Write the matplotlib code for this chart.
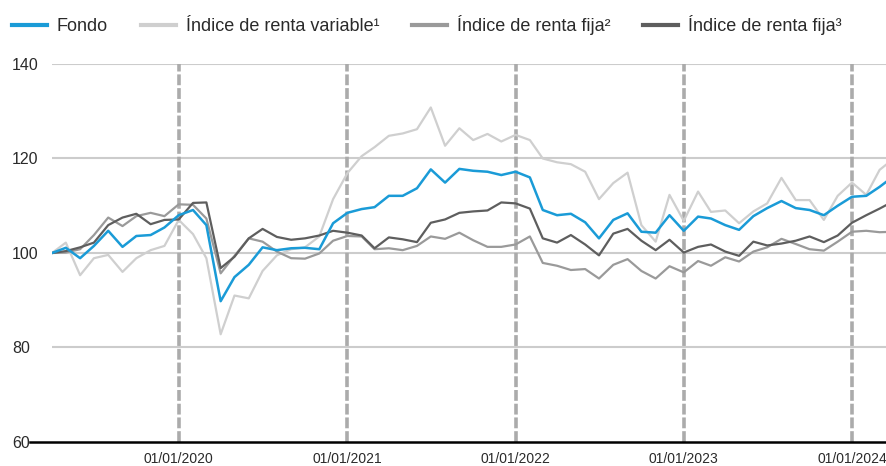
import pandas as pd
import matplotlib.pyplot as plt
from matplotlib.lines import Line2D

# Monthly series, base 100
dates = pd.date_range('2019-04-01', periods=61, freq='MS')

fondo = [100.0, 101.1, 98.9, 101.5, 104.7, 101.3, 103.6, 103.8, 105.4, 108.0,
         109.1, 105.9, 89.8, 94.9, 97.5, 101.2, 100.6, 101.0, 101.1, 100.8,
         106.3, 108.5, 109.3, 109.7, 112.1, 112.1, 113.7, 117.7, 114.9, 117.8,
         117.4, 117.2, 116.5, 117.2, 116.0, 109.1, 108.0, 108.3, 106.5, 103.1,
         107.0, 108.4, 104.5, 104.3, 108.0, 104.7, 107.7, 107.3, 105.9, 104.9,
         107.8, 109.5, 111.0, 109.5, 109.1, 108.0, 110.0, 111.9, 112.1, 114.0,
         116.3]

renta_variable = [100.0, 102.2, 95.3, 98.9, 99.6, 96.0, 98.9, 100.6, 101.5, 107.0,
                  104.0, 98.9, 82.8, 91.0, 90.4, 96.2, 99.5, 100.8, 101.2, 103.5,
                  111.4, 116.9, 120.5, 122.4, 124.8, 125.3, 126.2, 130.8, 122.7, 126.4,
                  123.9, 125.2, 123.6, 125.0, 123.9, 120.0, 119.2, 118.8, 117.2, 111.4,
                  114.8, 117.0, 105.9, 102.4, 112.3, 106.8, 113.0, 108.7, 109.0, 106.3,
                  108.8, 110.5, 115.9, 111.2, 111.2, 107.0, 112.1, 114.9, 112.3, 117.6,
                  120.0]

renta_fija_2 = [100.0, 100.1, 100.8, 103.8, 107.5, 105.7, 107.8, 108.5, 107.8, 110.3,
                110.2, 107.3, 95.7, 99.4, 103.1, 102.4, 100.3, 98.9, 98.8, 99.9,
                102.6, 103.6, 103.5, 100.8, 101.0, 100.6, 101.5, 103.5, 103.0, 104.3,
                102.7, 101.3, 101.3, 101.8, 103.5, 97.9, 97.3, 96.4, 96.6, 94.6,
                97.5, 98.7, 96.2, 94.6, 97.2, 95.9, 98.3, 97.3, 99.1, 98.2,
                100.3, 101.2, 103.0, 101.9, 100.8, 100.5, 102.4, 104.5, 104.7, 104.4,
                104.5]

renta_fija_3 = [100.0, 100.4, 101.2, 102.2, 105.9, 107.5, 108.3, 106.1, 107.0, 107.1,
                110.6, 110.7, 96.8, 99.2, 103.1, 105.1, 103.4, 102.8, 103.1, 103.7,
                104.7, 104.3, 103.7, 101.0, 103.3, 102.9, 102.3, 106.4, 107.1, 108.5,
                108.8, 109.0, 110.7, 110.5, 109.4, 103.1, 102.2, 103.8, 101.8, 99.5,
                104.1, 105.1, 102.6, 100.6, 102.8, 100.1, 101.3, 101.8, 100.3, 99.4,
                102.4, 101.6, 102.0, 102.6, 103.5, 102.3, 103.7, 106.4, 108.0, 109.4,
                111.0]

year_ticks = pd.to_datetime(['2020-01-01', '2021-01-01', '2022-01-01', '2023-01-01', '2024-01-01'])
labels = ['Fondo', 'Índice de renta variable¹', 'Índice de renta fija²', 'Índice de renta fija³']
colors = ['#1a9bd7', '#cfcfcf', '#9a9a9a', '#5e5e5e']

plt.rcParams['font.family'] = ['Liberation Sans', 'DejaVu Sans']
text_color = '#2a2a2a'

fig = plt.figure(figsize=(8.87, 4.66), dpi=100)
ax = fig.add_axes([52 / 887, 1 - 442 / 466, 1 - 52 / 887, (442 - 64) / 466])

ax.set_xlim(pd.Timestamp('2019-04-01'), pd.Timestamp('2024-03-17'))
ax.set_ylim(60, 140)

# grid and year markers
for y in [80, 100, 120, 140]:
    ax.axhline(y, color='#cccccc', lw=1.5, zorder=1)
for d in year_ticks:
    ax.axvline(d, color='#ababab', lw=2.6, ls=(0, (3, 0.8)), zorder=2)

ax.plot(dates, renta_variable, color=colors[1], lw=1.6, zorder=3)
ax.plot(dates, renta_fija_2, color=colors[2], lw=1.6, zorder=4)
ax.plot(dates, renta_fija_3, color=colors[3], lw=1.6, zorder=5)
ax.plot(dates, fondo, color=colors[0], lw=1.8, zorder=6)

for s in ax.spines.values():
    s.set_visible(False)

# baseline extends left of the plotting area
fig.add_artist(Line2D([30 / 887, 1], [1 - 442 / 466] * 2, color='black', lw=1.8))

ax.set_yticks([60, 80, 100, 120, 140])
ax.set_xticks(year_ticks)
ax.set_xticklabels([d.strftime('%d/%m/%Y') for d in year_ticks])
ax.tick_params(axis='y', length=0, pad=28.8, labelsize=11.5, labelcolor=text_color)
ax.tick_params(axis='x', length=0, pad=7, labelsize=10, labelcolor=text_color)
for lbl in ax.get_yticklabels():
    lbl.set_horizontalalignment('left')

handles = [Line2D([], [], color=c, lw=3) for c in colors]
fig.legend(handles, labels, loc='center left', bbox_to_anchor=(3 / 887, 1 - 25 / 466),
           bbox_transform=fig.transFigure, ncol=4, frameon=False, fontsize=13,
           handlelength=1.94, handletextpad=0.55, columnspacing=1.8, borderpad=0,
           labelcolor=text_color)

fig.savefig('out.png', dpi=100)
